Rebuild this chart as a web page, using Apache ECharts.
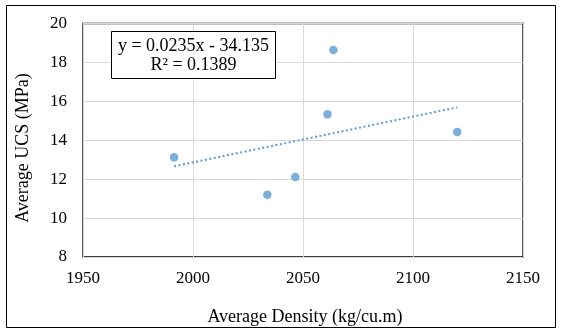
<!DOCTYPE html>
<html>
<head>
<meta charset="utf-8">
<script src="https://cdn.jsdelivr.net/npm/echarts@6/dist/echarts.min.js"></script>
<style>
html,body{margin:0;padding:0;background:#fff;}
#c{width:562px;height:333px;}
</style>
</head>
<body>
<div id="c"></div>
<script>
// Data
const densityValues = [1991.4, 2033.8, 2046.5, 2061.1, 2063.8, 2120.1];
const ucsValues = [13.12, 11.2, 12.11, 15.33, 18.64, 14.42];
const trendX = [1991.4, 2120.1];
const trendY = [12.66, 15.69];
const equationText = 'y = 0.0235x - 34.135';
const r2Text = 'R\u00B2 = 0.1389';
const xTitle = 'Average Density (kg/cu.m)';
const yTitle = 'Average UCS (MPa)';

const FONT = "'Liberation Serif', 'Times New Roman', serif";
const BLUE = '#5B9BD5';

const chart = echarts.init(document.getElementById('c'), null, {renderer: 'canvas'});
chart.setOption({
  animation: false,
  backgroundColor: '#fff',
  grid: {left: 83, top: 23.5, right: 39, bottom: 76, show: true, borderColor: '#000', borderWidth: 1.3, backgroundColor: 'transparent'},
  xAxis: {
    type: 'value', min: 1950, max: 2150, interval: 50,
    axisLine: {show: false}, axisTick: {show: false},
    splitLine: {show: true, lineStyle: {color: '#d9d9d9', width: 1}},
    axisLabel: {fontFamily: FONT, fontSize: 17, color: '#000', margin: 13, formatter: v => String(v)}
  },
  yAxis: {
    type: 'value', min: 8, max: 20, interval: 2,
    axisLine: {show: false}, axisTick: {show: false},
    splitLine: {show: true, lineStyle: {color: '#d9d9d9', width: 1}},
    axisLabel: {fontFamily: FONT, fontSize: 17, color: '#000', margin: 16, formatter: v => String(v)}
  },
  series: [
    {
      type: 'line',
      data: trendX.map((x, i) => [x, trendY[i]]),
      showSymbol: false, symbol: 'none',
      lineStyle: {color: BLUE, width: 2, type: [2, 2.5]},
      z: 2
    },
    {
      type: 'scatter',
      data: densityValues.map((x, i) => [x, ucsValues[i]]),
      symbol: 'circle', symbolSize: 8.5,
      itemStyle: {color: BLUE},
      z: 3
    }
  ],
  graphic: [
    {type: 'rect', shape: {x: 6.5, y: 5.5, width: 549, height: 322}, style: {fill: 'none', stroke: '#000', lineWidth: 1}, silent: true, z: 0},
    {type: 'rect', shape: {x: 111.5, y: 31.5, width: 164, height: 47}, style: {fill: '#fff', stroke: '#000', lineWidth: 1}, z: 10},
    {type: 'text', x: 193.5, y: 46.5, style: {text: equationText, font: '18px ' + FONT, fill: '#000', textAlign: 'center', textVerticalAlign: 'middle'}, z: 11},
    {type: 'text', x: 193.5, y: 65, style: {text: r2Text, font: '18px ' + FONT, fill: '#000', textAlign: 'center', textVerticalAlign: 'middle'}, z: 11},
    {type: 'text', x: 305, y: 317, style: {text: xTitle, font: '18px ' + FONT, fill: '#000', textAlign: 'center', textVerticalAlign: 'middle'}, z: 11},
    {type: 'text', x: 23.5, y: 148, rotation: Math.PI / 2, style: {text: yTitle, font: '18px ' + FONT, fill: '#000', textAlign: 'center', textVerticalAlign: 'middle'}, z: 11}
  ]
});
</script>
</body>
</html>
